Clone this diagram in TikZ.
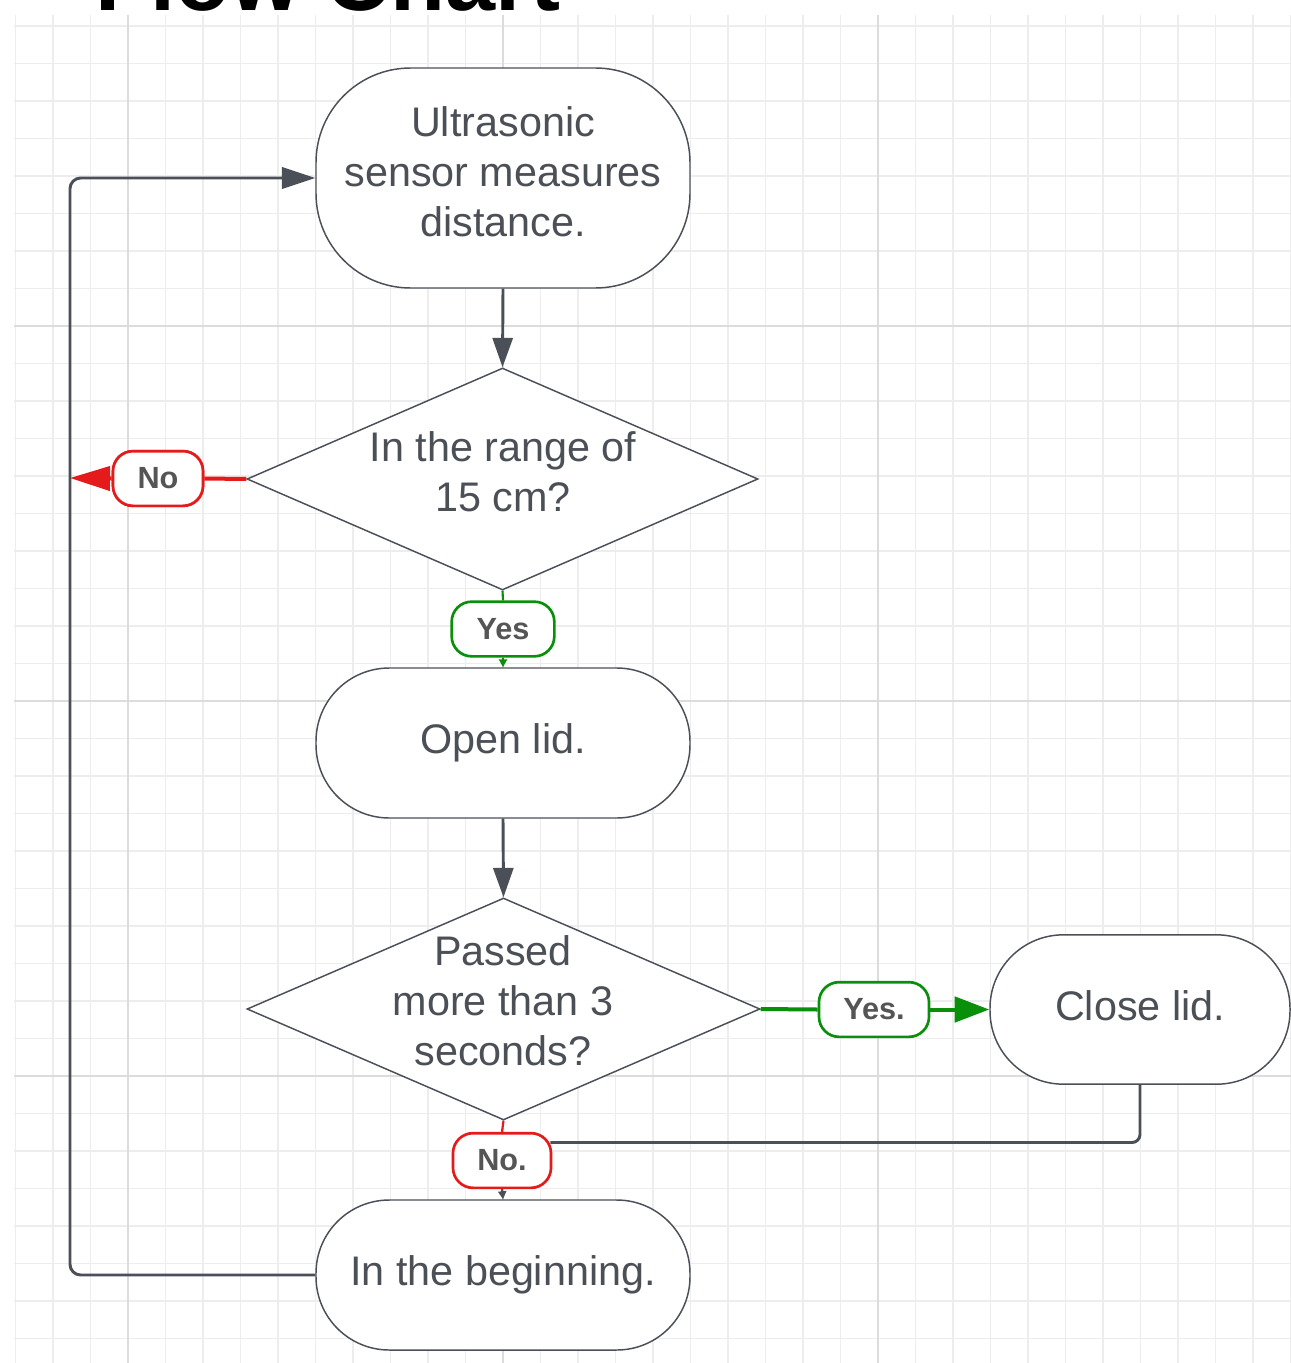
\documentclass[tikz,border=0pt]{standalone}
\usepackage{fontspec}
\setmainfont{Liberation Sans}
\usetikzlibrary{shapes.geometric,arrows.meta,calc}
\definecolor{dk}{HTML}{4A4F58}
\definecolor{txt}{HTML}{4B4F56}
\definecolor{labtxt}{HTML}{555555}
\definecolor{gr}{HTML}{0A8F0A}
\definecolor{rd}{HTML}{E51B1B}
\definecolor{gminor}{HTML}{EDEDED}
\definecolor{gmajor}{HTML}{DCDCDC}
\begin{document}
\begin{tikzpicture}[x=0.75pt,y=-0.75pt,
  term/.style={draw=dk, line width=1.1pt, fill=white, rounded corners=#1, inner sep=0pt,
    text=txt, font=\fontsize{31}{37.5}\selectfont, align=center},
  term/.default=55pt,
  dia/.style={draw=dk, line width=1.1pt, fill=white, diamond, inner sep=0pt},
  diatext/.style={inner sep=0pt, text=txt, font=\fontsize{31}{37.5}\selectfont, align=center},
  lab/.style={line width=2pt, fill=white, rounded corners=15pt, inner sep=0pt,
    text=labtxt, font=\fontsize{23}{26}\selectfont\bfseries, minimum height=41pt},
  conn/.style={draw=dk, line width=2.2pt},
  gline/.style={draw=gr, line width=3pt},
  rline/.style={draw=rd, line width=3pt}
]
\useasboundingbox (0,0) rectangle (1291,1363);
\fill[white] (0,0) rectangle (1291,1363);
% grid
\foreach \k in {0,...,34} \draw[gminor, line width=0.9pt] ({15.5+37.5*\k},15) -- ({15.5+37.5*\k},1363);
\foreach \k in {0,...,35} \draw[gminor, line width=0.9pt] (14,{26+37.5*\k}) -- (1291,{26+37.5*\k});
\foreach \x in {128,503,878} \draw[gmajor, line width=1.6pt] (\x,15) -- (\x,1363);
\foreach \y in {326,701,1076} \draw[gmajor, line width=1.6pt] (14,\y) -- (1291,\y);

% title
\node[anchor=base west, inner sep=0pt, font=\fontsize{67.5}{70}\selectfont\bfseries, text=black] (title) at (95,11) {Flow Chart};

% nodes
\node[term=71pt, minimum width=280.5pt, minimum height=165pt] (us) at (503,178) {Ultrasonic\\sensor measures\\distance.\rule[-9pt]{0pt}{0pt}};
\node[dia, minimum width=383.25pt, minimum height=166.5pt] (d1) at (502.5,479) {};
\node[diatext] (d1t) at (503,472) {In the range of\\15 cm?};
\node[term, minimum width=280.5pt, minimum height=112.5pt] (ol) at (503,743) {Open lid.};
\node[dia, minimum width=384.75pt, minimum height=166.5pt] (d2) at (503.5,1009) {};
\node[diatext] (d2t) at (503,1001) {Passed\\more than 3\\seconds?};
\node[term, minimum width=225pt, minimum height=112pt] (cl) at (1140,1009.5) {Close lid.\rule[-6pt]{0pt}{0pt}};
\node[term, minimum width=280.5pt, minimum height=112.5pt] (ib) at (503,1275) {In the beginning.};

% labels
\node[lab, draw=gr, minimum width=77pt] (y1) at (503,629) {Yes};
\node[lab, draw=gr, minimum width=82.5pt] (y2) at (874,1009.5) {Yes.};
\node[lab, draw=rd, minimum width=67.5pt] (n1) at (158,478.5) {No};
\node[lab, draw=rd, minimum width=73.5pt] (n2) at (502,1160.5) {No.};

\coordinate (lp) at (70,478);

% connectors
\draw[conn, -{Triangle[length=22pt,width=15pt]}] (us.south) -- (d1.north);
\draw[conn, -{Triangle[length=22pt,width=15pt]}] (ol.south) -- (d2.north);

\draw[draw=gr, line width=1.6pt] (d1.south) -- (y1.north);
\draw[draw=gr, line width=1.6pt, -{Triangle[length=6pt,width=6pt]}] (y1.south) -- (ol.north);

\draw[gline] (d2.east) -- (y2.west);
\draw[gline, -{Triangle[length=26pt,width=19pt]}] (y2.east) -- (cl.west);

\draw[rline] (d1.west) -- (n1.east);
\draw[rline, -{Triangle[length=30pt,width=18pt]}] (n1.west) -- (lp);

\draw[draw=rd, line width=1.6pt] (d2.south) -- (n2.north);
\draw[draw=dk, line width=1.6pt, -{Triangle[length=6pt,width=6pt]}] (n2.south) -- (ib.north);

\draw[conn, rounded corners=6pt] (cl.south) |- ($(n2.east)+(-2,-18)$);

\draw[conn, rounded corners=8pt, -{Triangle[length=25pt,width=16pt]}]
  (ib.west) -- (lp |- ib.west) -- (lp |- us.west) -- (us.west);

% redraw label on top
\node[lab, draw=rd, minimum width=67.5pt] at (n1) {No};
\end{tikzpicture}
\end{document}
